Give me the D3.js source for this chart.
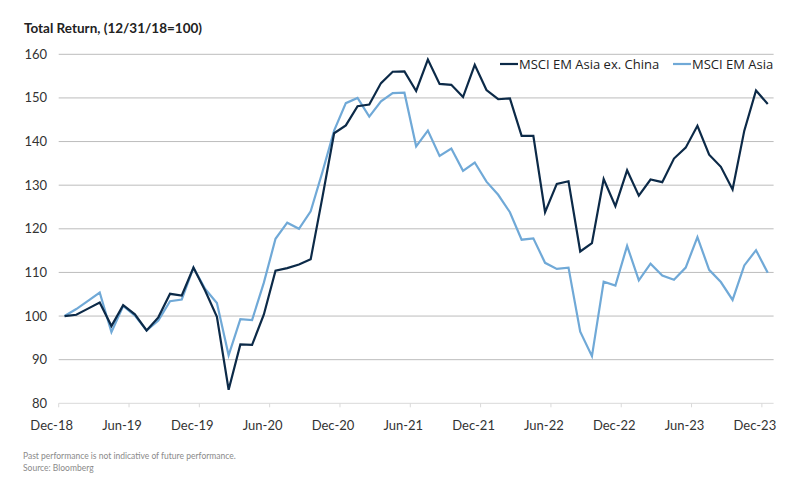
<!DOCTYPE html>
<html>
<head>
<meta charset="utf-8">
<script src="https://cdn.jsdelivr.net/npm/d3@7"></script>
<style>
  body { margin: 0; background: #fff; }
  svg { display: block; }
</style>
</head>
<body>
<div id="chart"></div>
<script>
// monthly categories Dec-18 .. Dec-23
const months = d3.timeMonth.range(new Date(2018, 11, 1), new Date(2024, 0, 1));
const tickLabels = ["Dec-18", "Jun-19", "Dec-19", "Jun-20", "Dec-20", "Jun-21",
  "Dec-21", "Jun-22", "Dec-22", "Jun-23", "Dec-23"];
const yTicks = [80, 90, 100, 110, 120, 130, 140, 150, 160];

const exChina = [
  100.0, 100.3, 101.7, 103.1, 97.7, 102.5, 100.4, 96.7, 99.7, 105.1, 104.7, 111.1,
  105.8, 99.8, 83.1, 93.5, 93.4, 100.3, 110.4, 111.0, 111.8, 113.0, 127.2, 141.9,
  143.7, 148.1, 148.5, 153.4, 156.0, 156.1, 151.6, 158.8, 153.2, 153.0, 150.2, 157.6,
  151.8, 149.7, 149.9, 141.3, 141.3, 123.8, 130.3, 130.9, 114.8, 116.7, 131.4, 125.2,
  133.4, 127.6, 131.3, 130.7, 136.1, 138.6, 143.6, 137.0, 134.2, 129.0, 142.5, 151.7,
  148.6
];
const emAsia = [
  100.0, 101.6, 103.5, 105.4, 96.3, 102.3, 100.1, 96.7, 99.0, 103.4, 103.8, 111.1,
  106.2, 103.0, 91.0, 99.3, 99.1, 107.6, 117.7, 121.4, 120.0, 124.0, 133.0, 142.5,
  148.8, 150.0, 145.7, 149.2, 151.1, 151.2, 138.9, 142.5, 136.7, 138.4, 133.3, 135.2,
  130.8, 127.8, 123.8, 117.5, 117.8, 112.2, 110.8, 111.1, 96.4, 90.8, 107.9, 107.0,
  116.1, 108.2, 112.0, 109.3, 108.3, 111.1, 118.1, 110.6, 107.8, 103.7, 111.6, 115.1,
  109.9
];

const series = [
  { name: "MSCI EM Asia ex. China", values: exChina, color: "#0c2a48" },
  { name: "MSCI EM Asia", values: emAsia, color: "#70a9d7" }
];

const fmt = d3.timeFormat("%b-%y");
const width = 800, height = 480;
const plot = { left: 58.7, right: 773.6, top: 54.3, bottom: 403.3 };

const svg = d3.select("#chart").append("svg")
  .attr("width", width)
  .attr("height", height)
  .style("font-family", "Lato, 'Noto Sans', sans-serif");

const x = d3.scaleBand().domain(months.map(fmt)).range([plot.left, plot.right]).padding(0);
const y = d3.scaleLinear().domain([80, 160]).range([plot.bottom, plot.top]);

// gridlines
svg.append("g")
  .selectAll("line")
  .data(yTicks.slice(1))
  .enter().append("line")
  .attr("x1", plot.left).attr("x2", plot.right)
  .attr("y1", d => y(d)).attr("y2", d => y(d))
  .attr("stroke", "#bcbcbc")
  .attr("stroke-width", 1);

// y labels
svg.append("g")
  .selectAll("text")
  .data(yTicks)
  .enter().append("text")
  .attr("x", 47)
  .attr("y", d => y(d))
  .attr("dy", "0.35em")
  .attr("text-anchor", "end")
  .attr("font-size", 13)
  .attr("fill", "#333")
  .text(d => d);

// x axis
const xAxis = svg.append("g");
xAxis.append("line")
  .attr("x1", plot.left).attr("x2", plot.right)
  .attr("y1", plot.bottom).attr("y2", plot.bottom)
  .attr("stroke", "#d9d9d9");
xAxis.selectAll(".tick")
  .data(tickLabels)
  .enter().append("line")
  .attr("x1", d => x(d)).attr("x2", d => x(d))
  .attr("y1", plot.bottom).attr("y2", plot.bottom + 4)
  .attr("stroke", "#d9d9d9");
xAxis.selectAll("text")
  .data(tickLabels)
  .enter().append("text")
  .attr("x", d => x(d) - 7)
  .attr("y", 430)
  .attr("text-anchor", "middle")
  .attr("font-size", 13)
  .attr("fill", "#333")
  .text(d => d);

// lines
const line = d3.line()
  .x((d, i) => x(fmt(months[i])) + x.bandwidth() / 2)
  .y(d => y(d));

svg.append("g")
  .selectAll("path")
  .data(series.slice().reverse())
  .enter().append("path")
  .attr("d", d => line(d.values))
  .attr("fill", "none")
  .attr("stroke", d => d.color)
  .attr("stroke-width", 2.2)
  .attr("stroke-linejoin", "miter");

// legend
const legend = svg.append("g")
  .style("font-family", "'Open Sans', sans-serif")
  .attr("font-size", 13);
const legendX = [500, 673];
series.forEach((s, i) => {
  legend.append("line")
    .attr("x1", legendX[i]).attr("x2", legendX[i] + 18)
    .attr("y1", 64).attr("y2", 64)
    .attr("stroke", s.color).attr("stroke-width", 2.2);
  legend.append("text")
    .attr("x", legendX[i] + 19)
    .attr("y", 64)
    .attr("dy", "0.35em")
    .attr("fill", "#222")
    .text(s.name);
});

// title and notes
svg.append("text")
  .attr("x", 24).attr("y", 33)
  .attr("font-size", 13.5)
  .attr("font-weight", "bold")
  .attr("fill", "#222")
  .text("Total Return, (12/31/18=100)");

svg.append("text")
  .attr("x", 23).attr("y", 459)
  .attr("font-size", 8.5)
  .attr("fill", "#8a8a8a")
  .text("Past performance is not indicative of future performance.");
svg.append("text")
  .attr("x", 23).attr("y", 471)
  .attr("font-size", 8.5)
  .attr("fill", "#8a8a8a")
  .text("Source: Bloomberg");
</script>
</body>
</html>
